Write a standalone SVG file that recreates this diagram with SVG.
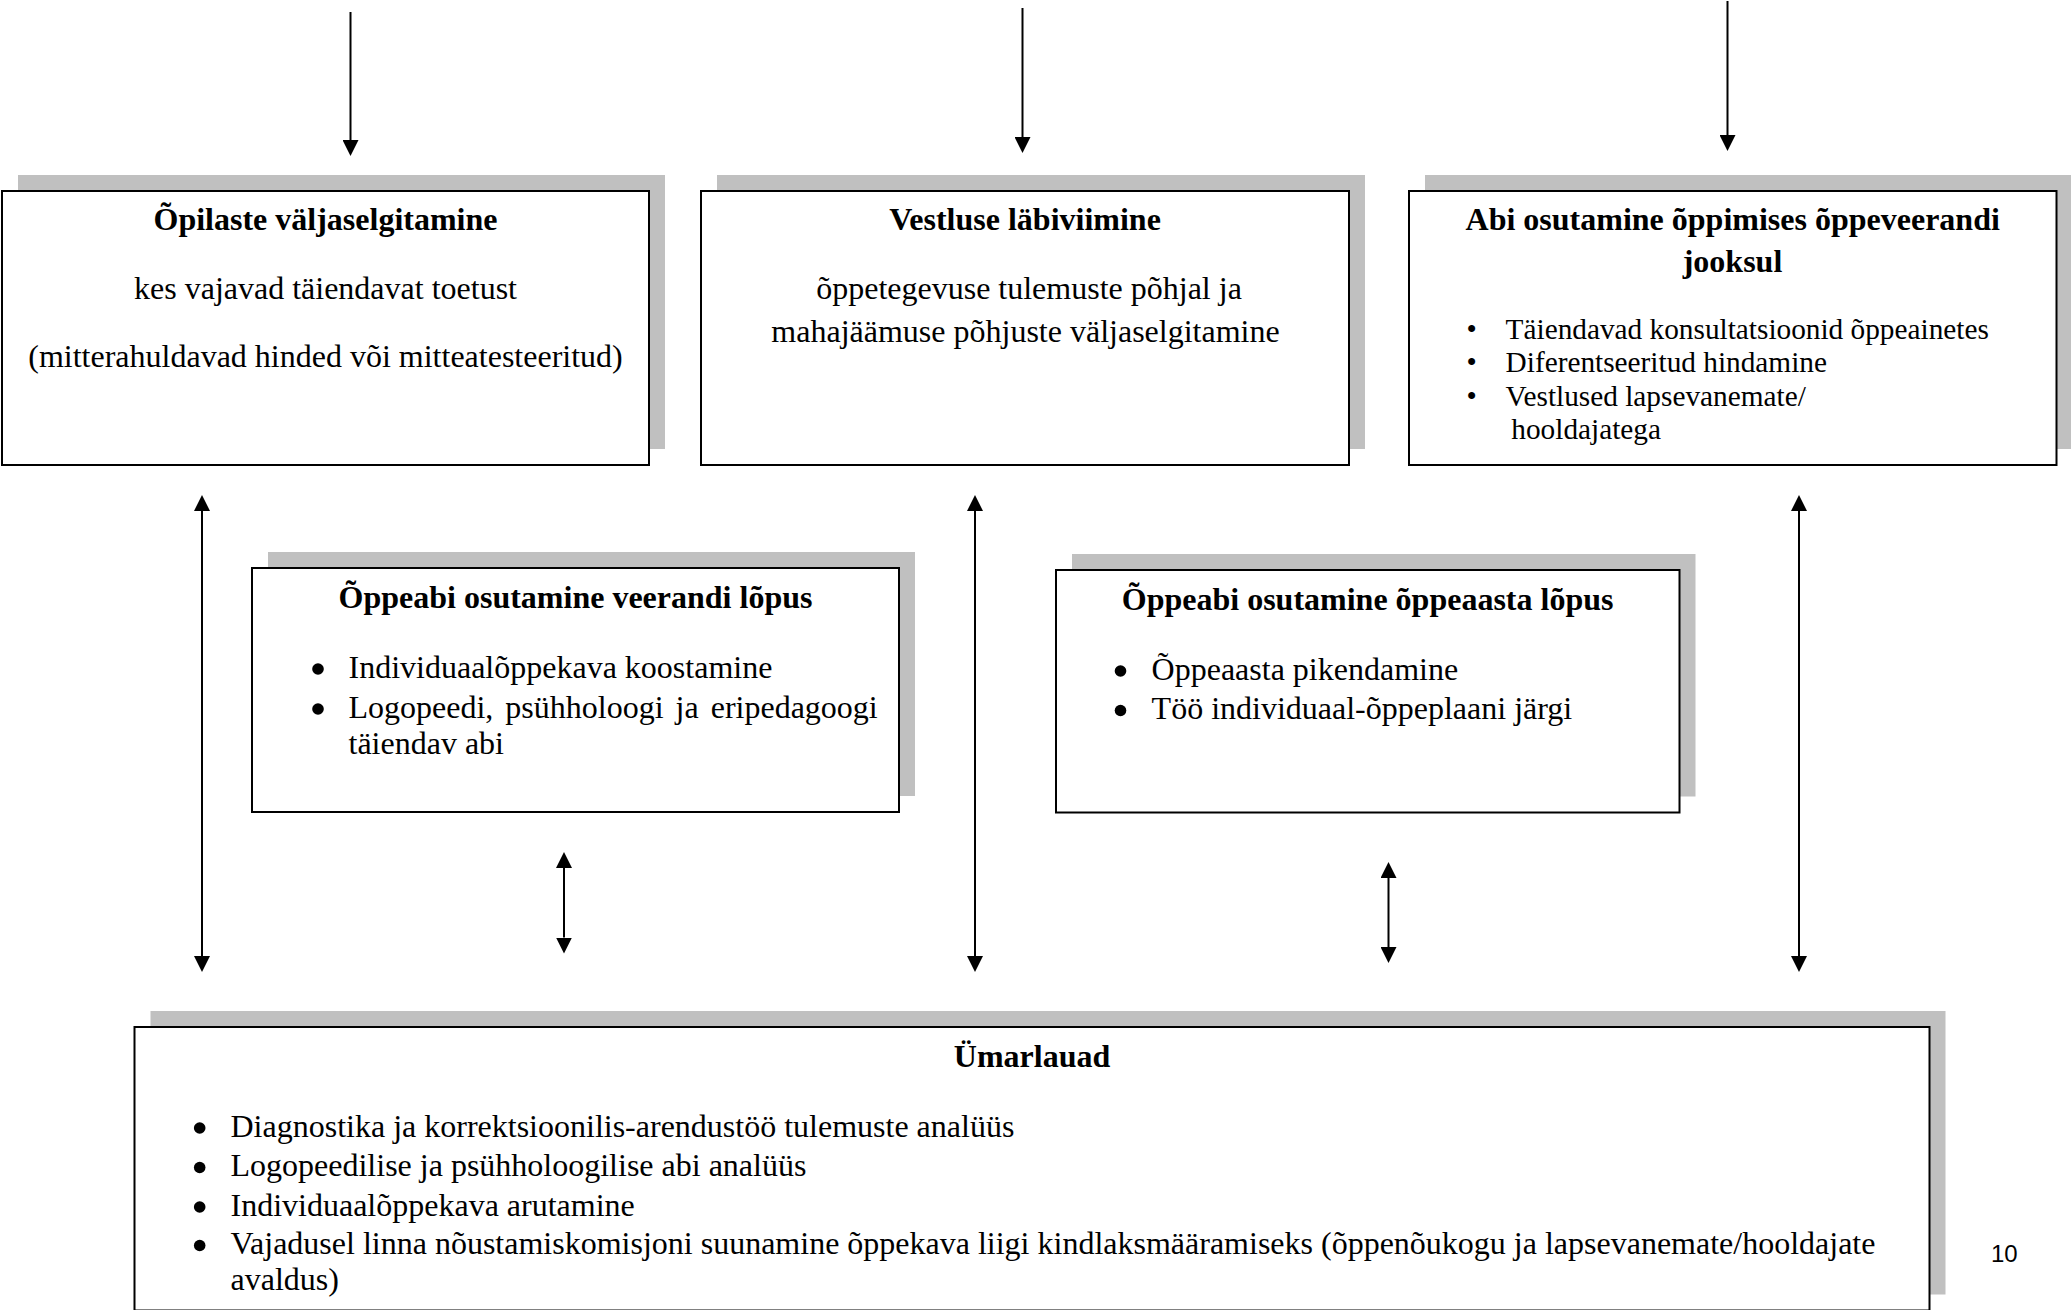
<svg xmlns="http://www.w3.org/2000/svg" width="2071" height="1310" viewBox="0 0 2071 1310">
<defs>
<marker id="ah" viewBox="0 0 16 16" refX="0" refY="8" markerWidth="16" markerHeight="16" markerUnits="userSpaceOnUse" orient="auto-start-reverse"><path d="M0,0 L16,8 L0,16 z" fill="#000"/></marker>
</defs>
<style>
.shadow{fill:#c0c0c0}
.box{fill:#fff;stroke:#000;stroke-width:2}
text{font-family:"Liberation Serif","Times New Roman",serif;fill:#000}
.t{font-size:32px;font-weight:bold;text-anchor:middle}
.b{font-size:32px}
.c{font-size:32px;text-anchor:middle}
.s{font-size:29.3px}
.dot{fill:#000}
.bs{font-size:29.3px;text-anchor:middle}
.conn line{stroke:#000;stroke-width:2}
.pg{font-family:"Liberation Sans",Arial,sans-serif;font-size:24px}
</style>
<rect width="2071" height="1310" fill="#fff"/>

<g id="node-opilaste">
<rect class="shadow" x="18" y="175" width="647" height="274"/>
<rect class="box" x="2" y="191" width="647" height="274"/>
<text class="t" x="325.5" y="230">Õpilaste väljaselgitamine</text>
<text class="c" x="325.5" y="299">kes vajavad täiendavat toetust</text>
<text class="c" x="325.5" y="367">(mitterahuldavad hinded või mitteatesteeritud)</text>
</g>

<g id="node-vestlus">
<rect class="shadow" x="717" y="175" width="648" height="274"/>
<rect class="box" x="701" y="191" width="648" height="274"/>
<text class="t" x="1025" y="230">Vestluse läbiviimine</text>
<text class="c" x="1029" y="299">õppetegevuse tulemuste põhjal ja</text>
<text class="c" x="1025.5" y="342">mahajäämuse põhjuste väljaselgitamine</text>
</g>

<g id="node-abi">
<rect class="shadow" x="1425" y="175" width="647.5" height="274"/>
<rect class="box" x="1409" y="191" width="647.5" height="274"/>
<text class="t" x="1732.7" y="230">Abi osutamine õppimises õppeveerandi</text>
<text class="t" x="1732.5" y="272">jooksul</text>
<text class="bs" x="1471.7" y="339">•</text>
<text class="s" x="1505.6" y="339">Täiendavad konsultatsioonid õppeainetes</text>
<text class="bs" x="1471.7" y="372">•</text>
<text class="s" x="1505.6" y="372">Diferentseeritud hindamine</text>
<text class="bs" x="1471.7" y="405.5">•</text>
<text class="s" x="1505.6" y="405.5">Vestlused lapsevanemate/</text>
<text class="s" x="1511.3" y="439">hooldajatega</text>
</g>

<g id="node-veerand">
<rect class="shadow" x="268" y="552" width="647" height="244"/>
<rect class="box" x="252" y="568" width="647" height="244"/>
<text class="t" x="575.5" y="608">Õppeabi osutamine veerandi lõpus</text>
<circle class="dot" cx="318" cy="669" r="5.8"/>
<text class="b" x="348.5" y="678">Individuaalõppekava koostamine</text>
<circle class="dot" cx="318" cy="709" r="5.8"/>
<text class="b" x="348.5" y="718" word-spacing="4">Logopeedi, psühholoogi ja eripedagoogi</text>
<text class="b" x="348.5" y="753.5">täiendav abi</text>
</g>

<g id="node-oppeaasta">
<rect class="shadow" x="1072" y="554" width="623.5" height="242.5"/>
<rect class="box" x="1056" y="570" width="623.5" height="242.5"/>
<text class="t" x="1367.6" y="610">Õppeabi osutamine õppeaasta lõpus</text>
<circle class="dot" cx="1120.5" cy="671" r="5.8"/>
<text class="b" x="1151.6" y="680">Õppeaasta pikendamine</text>
<circle class="dot" cx="1120.5" cy="710.5" r="5.8"/>
<text class="b" x="1151.6" y="719">Töö individuaal-õppeplaani järgi</text>
</g>

<g id="node-umarlauad">
<rect class="shadow" x="150.5" y="1011" width="1795" height="283.5"/>
<rect class="box" x="134.5" y="1027" width="1795" height="283.5"/>
<text class="t" x="1032" y="1067">Ümarlauad</text>
<circle class="dot" cx="199.7" cy="1128" r="5.8"/>
<text class="b" x="230.5" y="1136.5">Diagnostika ja korrektsioonilis-arendustöö tulemuste analüüs</text>
<circle class="dot" cx="199.7" cy="1167.5" r="5.8"/>
<text class="b" x="230.5" y="1176">Logopeedilise ja psühholoogilise abi analüüs</text>
<circle class="dot" cx="199.7" cy="1207" r="5.8"/>
<text class="b" x="230.5" y="1215.5">Individuaalõppekava arutamine</text>
<circle class="dot" cx="199.7" cy="1245.5" r="5.8"/>
<text class="b" x="230.5" y="1254">Vajadusel linna nõustamiskomisjoni suunamine õppekava liigi kindlaksmääramiseks (õppenõukogu ja lapsevanemate/hooldajate</text>
<text class="b" x="230.5" y="1290">avaldus)</text>
</g>

<g id="connectors" class="conn">
<line x1="350.5" y1="12" x2="350.5" y2="140" marker-end="url(#ah)"/>
<line x1="1022.5" y1="8" x2="1022.5" y2="137" marker-end="url(#ah)"/>
<line x1="1727.5" y1="1" x2="1727.5" y2="135" marker-end="url(#ah)"/>
<line x1="202" y1="511" x2="202" y2="956" marker-start="url(#ah)" marker-end="url(#ah)"/>
<line x1="564" y1="868" x2="564" y2="937.5" marker-start="url(#ah)" marker-end="url(#ah)"/>
<line x1="975" y1="511" x2="975" y2="956" marker-start="url(#ah)" marker-end="url(#ah)"/>
<line x1="1388.5" y1="878" x2="1388.5" y2="947" marker-start="url(#ah)" marker-end="url(#ah)"/>
<line x1="1799" y1="511" x2="1799" y2="956" marker-start="url(#ah)" marker-end="url(#ah)"/>
</g>

<text id="page-number" class="pg" x="1991" y="1262">10</text>
</svg>
